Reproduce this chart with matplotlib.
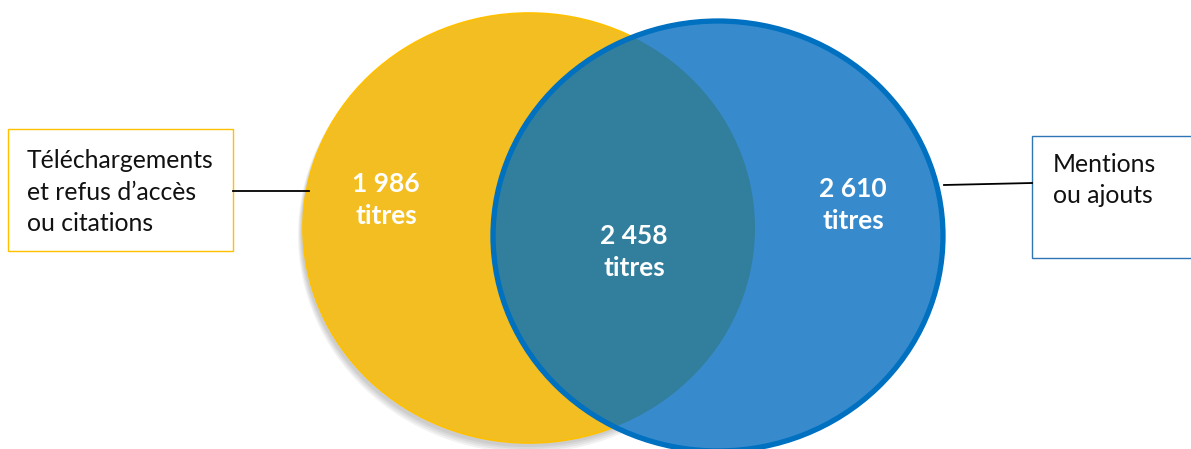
import matplotlib
matplotlib.use("Agg")
import matplotlib.pyplot as plt
from matplotlib.patches import Ellipse, Rectangle

# values
set_labels = ["Téléchargements\net refus d\u2019accès\nou citations", "Mentions\nou ajouts"]
counts = [1986, 2458, 2610]          # only left, both, only right
unit = "titres"


def fmt(n):
    # French thousands separator (space)
    return f"{n:,}".replace(",", " ")


W, H = 1191, 449
fig = plt.figure(figsize=(W / 100, H / 100), dpi=100)
ax = fig.add_axes([0, 0, 1, 1])
ax.set_xlim(0, W)
ax.set_ylim(H, 0)
ax.axis("off")

yellow = "#F2BE22"
blue = "#378BCC"
dark = "#317E9D"
blue_edge = "#0070C0"

# soft shadow under the yellow circle
for i, a in enumerate([0.05, 0.05, 0.05, 0.05]):
    ax.add_patch(Ellipse((527, 232 + i), 452 + 2 * i, 430 + 2 * i,
                         facecolor="#000000", edgecolor="none", alpha=a, zorder=1))

left = Ellipse((529, 228), 452, 430, facecolor=yellow, edgecolor="#FFC000",
               linewidth=1.2, zorder=2)
ax.add_patch(left)

right = Ellipse((718, 236), 450, 430, facecolor=blue, edgecolor="none", zorder=3)
ax.add_patch(right)

# overlap: yellow circle clipped by the blue one
lens = Ellipse((529, 228), 452, 430, facecolor=dark, edgecolor="none", zorder=4)
ax.add_patch(lens)
lens.set_clip_path(right)

right_edge = Ellipse((718, 236), 450, 430, facecolor="none", edgecolor=blue_edge,
                     linewidth=3.8, zorder=5)
ax.add_patch(right_edge)

font = ["Lato", "DejaVu Sans"]
num_kw = dict(color="white", fontsize=19, fontweight="bold", ha="center",
              va="center", family=font, zorder=6, linespacing=1.38)
ax.text(386, 200, f"{fmt(counts[0])}\n{unit}", **num_kw)
ax.text(634, 252, f"{fmt(counts[1])}\n{unit}", **num_kw)
ax.text(853, 205, f"{fmt(counts[2])}\n{unit}", **num_kw)

# label boxes and connectors
ax.add_patch(Rectangle((8, 129), 225, 122, facecolor="white", edgecolor="#FFC000",
                       linewidth=1.0, zorder=6))
ax.text(27, 192, set_labels[0], fontsize=17.8, ha="left", va="center",
        family=font, color="#111111", linespacing=1.43, zorder=7)
ax.plot([233, 309], [191, 191], color="black", linewidth=1.3, zorder=6)

ax.add_patch(Rectangle((1032, 136), 170, 122, facecolor="white", edgecolor="#2E75B6",
                       linewidth=1.0, zorder=6, clip_on=False))
ax.text(1053, 180, set_labels[1], fontsize=17.8, ha="left", va="center",
        family=font, color="#111111", linespacing=1.43, zorder=7)
ax.plot([944, 1032], [185, 183], color="black", linewidth=1.3, zorder=6)

fig.savefig("out.png", dpi=100, facecolor="white")
